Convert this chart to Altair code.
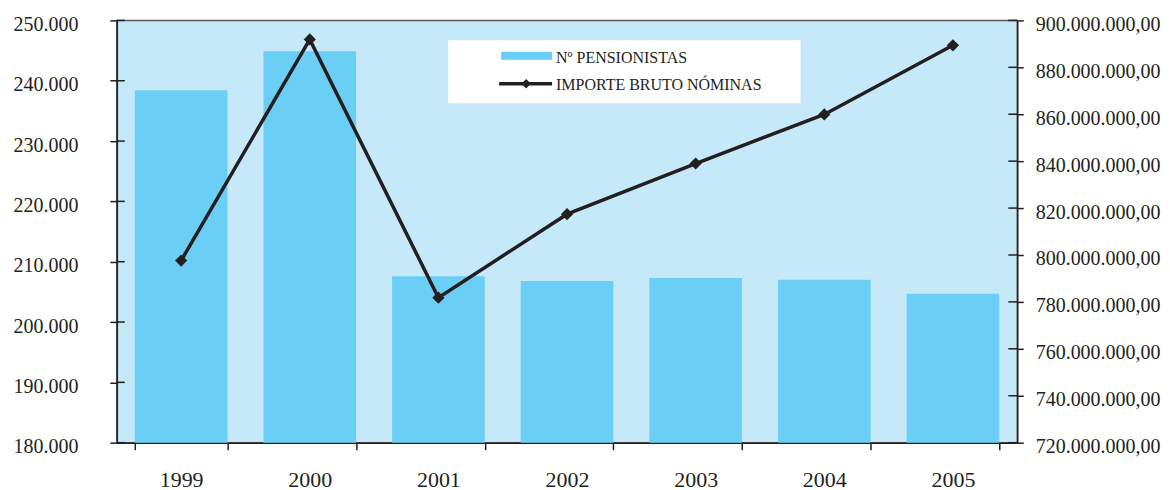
import altair as alt
import pandas as pd

years = ["1999", "2000", "2001", "2002", "2003", "2004", "2005"]
pensionistas = [238400, 244900, 207600, 206800, 207300, 207000, 204700]
importe = [797600000, 891900000, 781800000, 817400000, 839000000, 859900000, 889400000]
left_ticks = [180000, 190000, 200000, 210000, 220000, 230000, 240000, 250000]
right_ticks = [720000000, 740000000, 760000000, 780000000, 800000000,
               820000000, 840000000, 860000000, 880000000, 900000000]
legend_labels = ["Nº PENSIONISTAS", "IMPORTE BRUTO NÓMINAS"]

BAR = "#6bcef5"
BG = "#c5e9f9"
INK = "#231f20"
FONT = "Liberation Serif"

df = pd.DataFrame({"year": years, "pens": pensionistas, "imp": importe})
lt = pd.DataFrame({"lv": left_ticks})
rt = pd.DataFrame({"rv": right_ticks})
one = alt.Data(values=[{"k": 1}])

axis_common = dict(grid=False, domainColor=INK, tickColor=INK, domainWidth=1.5,
                   tickWidth=1.5, labelColor=INK, labelFont=FONT)

xenc = alt.X("year:N", sort=years, title=None,
             scale=alt.Scale(paddingInner=0.28, paddingOuter=0.14),
             axis=alt.Axis(labelAngle=0, tickBand="extent", labelFontSize=22,
                           labelPadding=20, tickSize=7, **axis_common))

bars = alt.Chart(df).mark_bar(color=BAR).encode(
    x=xenc,
    y=alt.Y("pens:Q", title=None,
            scale=alt.Scale(domain=[180000, 250000], zero=False, nice=False),
            axis=alt.Axis(orient="left", values=left_ticks, tickSize=7,
                          labelPadding=32, labelFontSize=20, labelOffset=4,
                          labelExpr="format(datum.value/1000, 'd') + '.000'",
                          **axis_common)),
    y2=alt.datum(180000),
)

line = alt.Chart(df).mark_line(color=INK, strokeWidth=3.5).encode(
    x=alt.X("year:N", sort=years),
    y=alt.Y("imp:Q", title=None,
            scale=alt.Scale(domain=[720000000, 900000000], zero=False, nice=False),
            axis=alt.Axis(orient="right", values=right_ticks, tickSize=6,
                          labelPadding=12, labelFontSize=20, labelOffset=4,
                          labelExpr="format(datum.value/1000000, 'd') + '.000.000,00'",
                          **axis_common)),
)
pts = alt.Chart(df).mark_point(shape="diamond", filled=True, size=150,
                               color=INK, opacity=1).encode(
    x=alt.X("year:N", sort=years),
    y=alt.Y("imp:Q", scale=alt.Scale(domain=[720000000, 900000000], zero=False, nice=False),
            axis=None),
)

lrules = alt.Chart(lt).mark_rule(color=INK, strokeWidth=1.5).encode(
    x=alt.value(0), x2=alt.value(8),
    y=alt.Y("lv:Q", scale=alt.Scale(domain=[180000, 250000], zero=False, nice=False), axis=None),
)
rrules = alt.Chart(rt).mark_rule(color=INK, strokeWidth=1.5).encode(
    x=alt.value(893), x2=alt.value(902),
    y=alt.Y("rv:Q", scale=alt.Scale(domain=[720000000, 900000000], zero=False, nice=False), axis=None),
)

box = alt.Chart(one).mark_rect(fill="white").encode(
    x=alt.value(332), x2=alt.value(685), y=alt.value(20), y2=alt.value(83))
sw1 = alt.Chart(one).mark_rect(fill=BAR).encode(
    x=alt.value(385), x2=alt.value(436), y=alt.value(31.5), y2=alt.value(39.5))
t1 = alt.Chart(one).mark_text(align="left", baseline="middle", font=FONT,
                              fontSize=16, color=INK, text=legend_labels[0]).encode(
    x=alt.value(440), y=alt.value(38))
sw2 = alt.Chart(one).mark_rule(color=INK, strokeWidth=3.5).encode(
    x=alt.value(383), x2=alt.value(436), y=alt.value(63.5))
dm = alt.Chart(one).mark_point(shape="diamond", filled=True, size=90,
                               color=INK, opacity=1).encode(
    x=alt.value(410), y=alt.value(63.5))
t2 = alt.Chart(one).mark_text(align="left", baseline="middle", font=FONT,
                              fontSize=16, color=INK, text=legend_labels[1]).encode(
    x=alt.value(440), y=alt.value(65))

chart = alt.layer(bars, line, pts, lrules, rrules, box, sw1, t1, sw2, dm, t2).resolve_scale(
    y="independent"
).properties(
    width=902, height=423,
    padding={"left": 109, "top": 12, "right": 145, "bottom": 50},
    autosize=alt.AutoSizeParams(type="none"),
    background="white",
).configure_view(
    fill=BG, stroke="#58595b", strokeWidth=1.5
)

chart.save("out.html", embed_options={"renderer": "svg", "actions": False})
